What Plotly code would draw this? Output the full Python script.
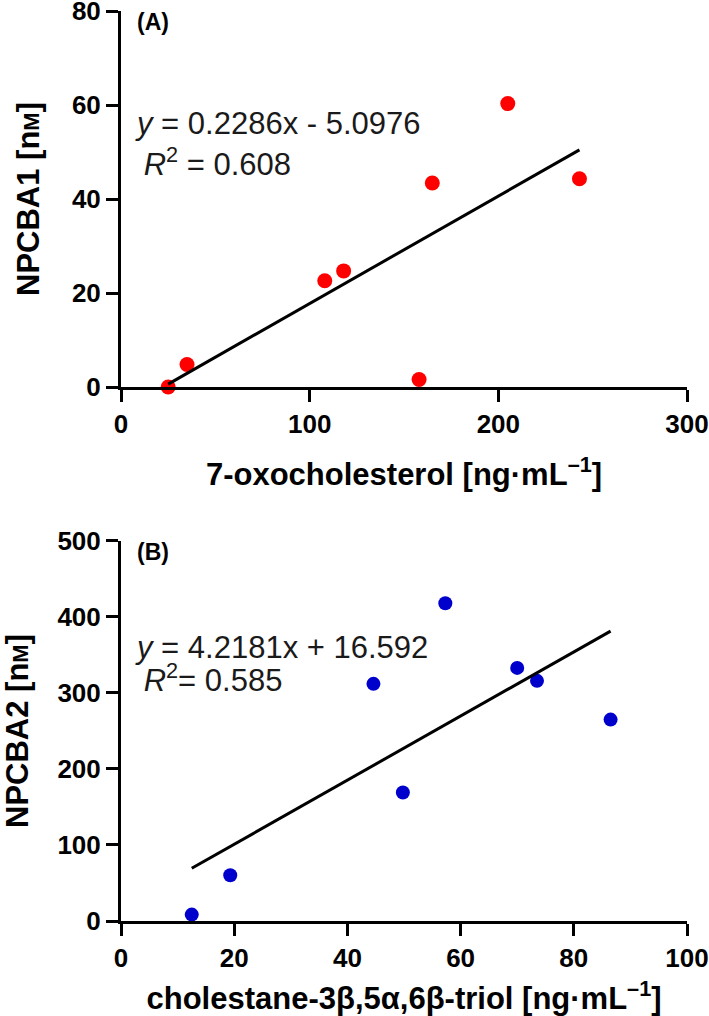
import plotly.graph_objects as go

# Panel A data
a_x = [25, 35, 108, 118, 158, 165, 205, 243]
a_y = [0, 4.8, 22.6, 24.7, 1.6, 43.4, 60.3, 44.3]
a_slope, a_intercept = 0.2286, -5.0976
a_fit_x = [25, 243]

# Panel B data
b_x = [12.5, 19.3, 44.6, 49.8, 57.3, 70.0, 73.5, 86.5]
b_y = [8.4, 60.2, 312, 169, 418, 333, 316, 265]
b_slope, b_intercept = 4.2181, 16.592
b_fit_x = [12.5, 86.5]

FONT = "Liberation Sans, Arial, sans-serif"
TICKFONT = dict(family=FONT, size=26, color="black", weight="bold")
TITLEFONT = dict(family=FONT, size=31, color="black", weight="bold")

fig = go.Figure()

fig.add_trace(go.Scatter(x=a_x, y=a_y, mode="markers",
                         marker=dict(color="#FF0000", size=15),
                         cliponaxis=False, xaxis="x", yaxis="y", showlegend=False))
fig.add_trace(go.Scatter(x=a_fit_x, y=[a_slope * v + a_intercept for v in a_fit_x],
                         mode="lines", line=dict(color="black", width=3),
                         cliponaxis=False, xaxis="x", yaxis="y", showlegend=False))

fig.add_trace(go.Scatter(x=b_x, y=b_y, mode="markers",
                         marker=dict(color="#0000CC", size=14),
                         cliponaxis=False, xaxis="x2", yaxis="y2", showlegend=False))
fig.add_trace(go.Scatter(x=b_fit_x, y=[b_slope * v + b_intercept for v in b_fit_x],
                         mode="lines", line=dict(color="black", width=3),
                         cliponaxis=False, xaxis="x2", yaxis="y2", showlegend=False))

axis_common = dict(showline=True, linecolor="black", linewidth=3, ticks="outside",
                   ticklen=12, tickwidth=3, tickcolor="black", showgrid=False,
                   zeroline=False, tickfont=TICKFONT, mirror=False, automargin=False,
                   ticklabeloverflow="allow")

fig.update_layout(
    width=709, height=1016,
    margin=dict(l=121, r=22, t=11, b=95),
    paper_bgcolor="white", plot_bgcolor="white",
    showlegend=False,
    xaxis=dict(domain=[0, 1], anchor="y", range=[0, 300], tickvals=[0, 100, 200, 300],
               title=dict(text="7-oxocholesterol [ng·mL<sup>–1</sup>]", font=TITLEFONT, standoff=26),
               **axis_common),
    yaxis=dict(domain=[0.5868, 1], anchor="x", range=[0, 80], tickvals=[0, 20, 40, 60, 80],
               title=dict(text="NPCBA1 [n<span style='font-size:22px'>M</span>]", font=TITLEFONT, standoff=24),
               **axis_common),
    xaxis2=dict(domain=[0, 1], anchor="y2", range=[0, 100], tickvals=[0, 20, 40, 60, 80, 100],
                title=dict(text="cholestane-3β,5α,6β-triol [ng·mL<sup>–1</sup>]", font=TITLEFONT, standoff=23),
                **axis_common),
    yaxis2=dict(domain=[0, 0.4176], anchor="x2", range=[0, 500], tickvals=[0, 100, 200, 300, 400, 500],
                title=dict(text="NPCBA2 [n<span style='font-size:22px'>M</span>]", font=TITLEFONT, standoff=24),
                **axis_common),
)

EQFONT = dict(family=FONT, size=31, color="#1a1a1a")
LABFONT = dict(family=FONT, size=23, color="black", weight="bold")

anns = [
    dict(text="(A)", xref="x domain", yref="y domain", x=0.024, y=0.971, font=LABFONT),
    dict(text="<i>y</i> = 0.2286x - 5.0976", xref="x domain", yref="y domain", x=0.021, y=0.702, font=EQFONT),
    dict(text=" <i>R</i><sup>2</sup> = 0.608", xref="x domain", yref="y domain", x=0.021, y=0.598, font=EQFONT),
    dict(text="(B)", xref="x2 domain", yref="y2 domain", x=0.024, y=0.971, font=LABFONT),
    dict(text="<i>y</i> = 4.2181x + 16.592", xref="x2 domain", yref="y2 domain", x=0.021, y=0.721, font=EQFONT),
    dict(text=" <i>R</i><sup>2</sup>= 0.585", xref="x2 domain", yref="y2 domain", x=0.021, y=0.639, font=EQFONT),
]
for a in anns:
    a.update(showarrow=False, xanchor="left", yanchor="middle")
    fig.add_annotation(**a)

fig.write_html("out.html", config={"displayModeBar": False},
               post_script="document.body.style.margin='0';")
